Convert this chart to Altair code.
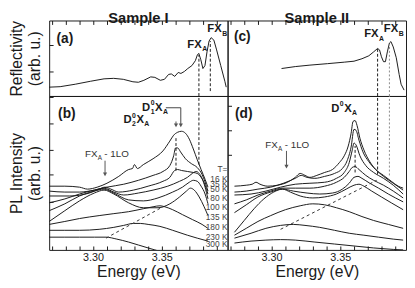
import altair as alt
import pandas as pd

FONT = "Liberation Sans"
INK = "#1a1a1a"
GRAY = "#555555"
X_DOMAIN = [3.268, 3.398]
X_TICKS = [3.27, 3.28, 3.29, 3.30, 3.31, 3.32, 3.33, 3.34, 3.35, 3.36, 3.37, 3.38, 3.39]
PANEL_W = 182
TOP_H = 77
BOT_H = 157

# ---------------- reflectivity ----------------
REFL_A_E = [3.268, 3.276, 3.287, 3.298, 3.308, 3.315, 3.322, 3.329, 3.333, 3.337, 3.342, 3.345,
            3.349, 3.352, 3.355, 3.357, 3.3595, 3.362, 3.364, 3.3665, 3.369, 3.372, 3.3745, 3.376,
            3.377, 3.3785, 3.380, 3.3815, 3.383, 3.3845, 3.386, 3.388, 3.390, 3.393, 3.396, 3.397]
REFL_A_V = [9, 9.5, 12, 15, 17.5, 18, 17, 14.5, 14, 16, 19.5, 19,
            16, 17, 22, 22.5, 20, 24, 23, 25, 28, 31, 36, 42,
            43.5, 37, 28, 31, 45, 56, 59.5, 57, 47, 31, 15, 9]
REFL_C_E = [3.3073, 3.3173, 3.328, 3.3409, 3.353, 3.3601, 3.3659, 3.3709, 3.3744, 3.3773, 3.3787,
            3.3801, 3.3816, 3.383, 3.3844, 3.3859, 3.387, 3.3887, 3.3909, 3.393, 3.3944, 3.3966]
REFL_C_V = [28, 30, 31.5, 33, 34.5, 35.5, 38, 41, 45, 48.5, 47,
            40, 35, 35, 45, 54, 55.5, 50, 39, 22, 12, 6]

TEMPS = ["16 K", "35 K", "50 K", "80 K", "100 K", "135 K", "180 K", "230 K", "300 K"]

# ---------------- PL sample I (panel b) ----------------
PL_B = {
    "16 K": ([3.2680, 3.2794, 3.2901, 3.2959, 3.3030, 3.3101, 3.3187, 3.3259, 3.3287, 3.3301, 3.3323,
              3.3366, 3.3437, 3.3509, 3.3559, 3.3587, 3.3616, 3.3644, 3.3673, 3.3701, 3.3730, 3.3759,
              3.3787, 3.3816, 3.3837],
             [65, 65, 64, 62, 64, 68, 75, 82, 83, 87, 83, 87, 93, 101, 111, 117, 120, 121, 119, 113,
              103, 92, 82, 72, 64]),
    "35 K": ([3.2680, 3.2794, 3.2901, 3.3009, 3.3101, 3.3223, 3.3330, 3.3437, 3.3509, 3.3559, 3.3587,
              3.3601, 3.3616, 3.3637, 3.3673, 3.3716, 3.3759, 3.3794, 3.3837],
             [60, 59, 59, 61, 64, 67, 71, 76, 80, 86, 96, 104, 104, 100, 93, 88, 84, 77, 60]),
    "50 K": ([3.2680, 3.2830, 3.2973, 3.3044, 3.3087, 3.3130, 3.3187, 3.3294, 3.3401, 3.3509, 3.3559,
              3.3594, 3.3616, 3.3644, 3.3687, 3.3730, 3.3759, 3.3787, 3.3816, 3.3837],
             [55, 55, 58, 62, 64, 62, 59, 61, 65, 70, 74, 81, 82, 81, 80, 79, 78, 74, 66, 57]),
    "80 K": ([3.2680, 3.2794, 3.2901, 3.3009, 3.3080, 3.3151, 3.3223, 3.3330, 3.3437, 3.3544, 3.3630,
              3.3687, 3.3723, 3.3751, 3.3773, 3.3794, 3.3816, 3.3837],
             [48, 52, 57, 61, 63, 59, 56, 58, 61, 65, 70, 74, 78, 80, 78, 73, 64, 52]),
    "100 K": ([3.2680, 3.2794, 3.2901, 3.3009, 3.3080, 3.3151, 3.3259, 3.3366, 3.3473, 3.3580, 3.3651,
               3.3701, 3.3730, 3.3759, 3.3787, 3.3816, 3.3837],
              [40, 47, 55, 60, 62, 58, 51, 50, 53, 59, 64, 69, 71, 70, 65, 57, 47]),
    "135 K": ([3.2680, 3.2794, 3.2901, 3.3009, 3.3080, 3.3151, 3.3259, 3.3366, 3.3473, 3.3559, 3.3630,
               3.3680, 3.3709, 3.3737, 3.3773, 3.3809, 3.3837],
              [29, 40, 50, 58, 61, 57, 48, 43, 43, 47, 54, 60, 63, 61, 54, 44, 35]),
    "180 K": ([3.2680, 3.2794, 3.2901, 3.3044, 3.3151, 3.3259, 3.3366, 3.3437, 3.3487, 3.3523, 3.3580,
               3.3651, 3.3723, 3.3794, 3.3837],
              [26, 29, 32, 35, 37, 39, 42, 44, 45, 44, 41, 36, 31, 26, 22]),
    "230 K": ([3.2680, 3.2794, 3.2901, 3.3044, 3.3151, 3.3223, 3.3294, 3.3344, 3.3401, 3.3487, 3.3580,
               3.3687, 3.3759, 3.3837],
              [20, 20, 20, 21, 23, 25, 27, 27, 26, 24, 20, 15, 12, 9]),
    "300 K": ([3.2680, 3.2794, 3.2901, 3.3009, 3.3094, 3.3173, 3.3259, 3.3330, 3.3401, 3.3450, 3.3500],
              [13, 13, 13, 13, 13, 11, 8, 5, 2, 0, -2]),
}

# ---------------- PL sample II (panel d) ----------------
PL_D = {
    "16 K": ([3.2730, 3.2816, 3.2859, 3.2887, 3.2916, 3.2973, 3.3044, 3.3116, 3.3173, 3.3209, 3.3244,
              3.3280, 3.3330, 3.3387, 3.3444, 3.3494, 3.3530, 3.3559, 3.3580, 3.3594, 3.3609, 3.3623,
              3.3644, 3.3673, 3.3716, 3.3759, 3.3816, 3.3873, 3.3923, 3.3959],
             [65, 66, 67, 69, 67, 65, 66, 69, 74, 78, 76, 74, 76, 79, 82, 89, 96, 106, 119, 131, 132,
              127, 114, 102, 90, 82, 76, 70, 65, 63]),
    "35 K": ([3.2730, 3.2816, 3.2901, 3.2994, 3.3087, 3.3173, 3.3216, 3.3259, 3.3316, 3.3387, 3.3459,
              3.3516, 3.3551, 3.3580, 3.3601, 3.3616, 3.3637, 3.3666, 3.3709, 3.3759, 3.3816, 3.3887,
              3.3959],
             [59, 60, 62, 64, 68, 73, 76, 74, 73, 75, 78, 83, 91, 105, 123, 122, 112, 100, 90, 82, 75,
              68, 61]),
    "50 K": ([3.2730, 3.2851, 3.2959, 3.3066, 3.3173, 3.3280, 3.3387, 3.3473, 3.3530, 3.3566, 3.3587,
              3.3601, 3.3616, 3.3644, 3.3687, 3.3744, 3.3816, 3.3887, 3.3959],
             [56, 57, 60, 64, 67, 68, 69, 73, 79, 89, 101, 109, 107, 96, 86, 79, 73, 66, 57]),
    "80 K": ([3.2730, 3.2816, 3.2901, 3.2994, 3.3080, 3.3173, 3.3280, 3.3387, 3.3473, 3.3530, 3.3566,
              3.3587, 3.3609, 3.3637, 3.3687, 3.3744, 3.3816, 3.3887, 3.3959],
             [47, 51, 56, 60, 63, 63, 63, 65, 69, 74, 80, 84, 85, 82, 76, 71, 66, 60, 53]),
    "100 K": ([3.2730, 3.2816, 3.2901, 3.2994, 3.3080, 3.3159, 3.3259, 3.3351, 3.3444, 3.3516, 3.3566,
               3.3601, 3.3630, 3.3659, 3.3716, 3.3780, 3.3851, 3.3959],
              [38, 46, 54, 59, 62, 60, 58, 57, 58, 62, 68, 74, 75, 73, 68, 63, 57, 49]),
    "135 K": ([3.2730, 3.2801, 3.2873, 3.2944, 3.3016, 3.3080, 3.3137, 3.3209, 3.3301, 3.3387, 3.3473,
               3.3544, 3.3601, 3.3637, 3.3673, 3.3730, 3.3801, 3.3873, 3.3959],
              [18, 30, 42, 52, 59, 62, 59, 55, 53, 54, 57, 62, 66, 67, 65, 60, 54, 48, 41]),
    "180 K": ([3.2730, 3.2816, 3.2901, 3.2994, 3.3101, 3.3209, 3.3301, 3.3387, 3.3473, 3.3566, 3.3659,
               3.3744, 3.3851, 3.3959],
              [15, 22, 29, 35, 41, 45, 47, 46, 43, 39, 34, 30, 26, 22]),
    "230 K": ([3.2730, 3.2851, 3.2959, 3.3066, 3.3159, 3.3244, 3.3351, 3.3459, 3.3566, 3.3673, 3.3780,
               3.3887, 3.3959],
              [12, 17, 22, 25, 26, 25, 23, 20, 17, 15, 13, 11, 10]),
    "300 K": ([3.2730, 3.2851, 3.2959, 3.3066, 3.3173, 3.3316, 3.3459, 3.3601, 3.3744, 3.3887, 3.3959],
              [7, 9, 10, 10.5, 10, 8, 6, 4, 2, 0.5, 0]),
}

# temperature label column (panel d coordinates, right edge on the panel border)
T_LABEL_E = 3.2679
T_LABEL_TEXT = ["T="] + TEMPS
T_LABEL_V = [82, 72, 67, 62.5, 53, 44, 33, 23, 13.5, 6]

# vertical marker lines: (energy, from, to)
VLINES_A = [(3.3771, 0, 42), (3.3854, 5, 56)]
VLINES_B = [(3.3771, 87, 157), (3.3604, 81, 116)]
VLINES_C_BLACK = [(3.3773, 0, 48)]
VLINES_C_GRAY = [(3.3859, 0, 53)]
VLINES_D_BLACK = [(3.3773, 77, 157), (3.3609, 79, 106)]
VLINES_D_GRAY = [(3.3859, 76, 157)]
# diagonal guide lines (energy, value) pairs
DIAG_B_E = [3.3094, 3.3509]
DIAG_B_V = [12, 44]
DIAG_D_E = [3.3066, 3.3766]
DIAG_D_V = [21, 71]
# arrows (energy, start, tip)
ARROWS_B = [(3.3087, 91, 78), (3.3604, 131, 128)]
ARROWS_D = [(3.3109, 101, 86)]
BRACKET_B_E = [3.3530, 3.3639, 3.3639]
BRACKET_B_V = [145, 145, 128]
ARROW_HEADS_B = [(3.3087, 77), (3.3604, 127), (3.3639, 127)]
ARROW_HEADS_D = [(3.3109, 85)]

# text anchors
PANEL_TAGS = {"a": (3.2794, 58), "b": (3.2809, 139), "c": (3.2787, 60), "d": (3.2798, 139)}
FXA_A = (3.3791, 52)
FXB_A = (3.3937, 68)
FXA_C = (3.3780, 63)
FXB_C = (3.3923, 68)
LO_B = (3.3032, 98)
LO_D = (3.3046, 107)
D1_B = (3.3416, 144.5)
D2_B = (3.3280, 132)
D_D = (3.3494, 144)


def x_enc(kind):
    common = dict(values=X_TICKS, domain=False, grid=False, tickSize=4, offset=-4, tickColor=INK)
    if kind == "top":
        axis = alt.Axis(orient="top", labels=False, title=None, **common)
    else:
        axis = alt.Axis(orient="bottom",
                        labelExpr="(round(datum.value*100) % 5 == 0) ? format(datum.value, '.2f') : ''",
                        labelOverlap=False, labelFlush=False, labelPadding=2, labelFontSize=11,
                        labelColor=INK, labelFont=FONT,
                        title="Energy (eV)", titleFontSize=16, titleFontWeight="normal",
                        titlePadding=1, titleColor=INK, titleFont=FONT, **common)
    return alt.X("E:Q", scale=alt.Scale(domain=X_DOMAIN, nice=False, zero=False), axis=axis)


def y_enc(height, ticks, title):
    kw = dict(labels=False, domain=False, grid=False, tickSize=4, offset=-4, tickColor=INK)
    if ticks:
        kw["values"] = ticks
    else:
        kw["ticks"] = False
    if title:
        kw.update(title=title, titleFontSize=16, titleFontWeight="normal", titlePadding=6,
                  titleLineHeight=19, titleColor=INK, titleFont=FONT)
    else:
        kw["title"] = None
    return alt.Y("V:Q", scale=alt.Scale(domain=[0, height], nice=False, zero=False),
                 axis=alt.Axis(**kw))


def curves_layer(curves, X, Y, color=INK):
    rows = []
    for name, (es, vs) in curves.items():
        for i, (e, v) in enumerate(zip(es, vs)):
            rows.append({"T": name, "E": e, "V": v, "i": i})
    return alt.Chart(pd.DataFrame(rows)).mark_line(
        interpolate="monotone", strokeWidth=1, color=color, clip=True
    ).encode(x=X, y=Y, detail="T:N", order="i:Q")


def vlines(specs, X, Y, color=INK, dash=(3, 2)):
    df = pd.DataFrame([{"E": e, "V": a, "V2": b} for e, a, b in specs])
    return alt.Chart(df).mark_rule(color=color, strokeWidth=1, strokeDash=list(dash)).encode(
        x=X, y=Y, y2="V2:Q")


def path(es, vs, X, Y, color=INK, dash=None, width=1):
    df = pd.DataFrame({"E": es, "V": vs, "i": list(range(len(es)))})
    kw = dict(color=color, strokeWidth=width)
    if dash:
        kw["strokeDash"] = list(dash)
    return alt.Chart(df).mark_line(**kw).encode(x=X, y=Y, order="i:Q")


def heads(specs, X, Y, color=GRAY):
    df = pd.DataFrame([{"E": e, "V": v} for e, v in specs])
    return alt.Chart(df).mark_point(shape="triangle-down", filled=True, size=18, color=color,
                                    opacity=1).encode(x=X, y=Y)


def txt(pos, text, X, Y, size, weight="normal", align="left", dx=0, dy=0, color=INK):
    df = pd.DataFrame({"E": [pos[0]], "V": [pos[1]], "t": [text]})
    return alt.Chart(df).mark_text(fontSize=size, fontWeight=weight, align=align, baseline="middle",
                                   dx=dx, dy=dy, color=color, font=FONT).encode(x=X, y=Y, text="t:N")


def fx_label(pos, sub, X, Y):
    return [txt(pos, "FX", X, Y, 11.5, "bold", "right"),
            txt(pos, sub, X, Y, 7, "bold", "left", 0.5, 4.5)]


def lo_label(pos, X, Y):
    return [txt(pos, "FX", X, Y, 10, "normal", "right", color="#333333"),
            txt(pos, "A", X, Y, 6.5, "normal", "left", 0.3, 4, color="#333333"),
            txt(pos, "- 1LO", X, Y, 10, "normal", "left", 7, 0, color="#333333")]


def donor_label(pos, idx, X, Y):
    out = [txt(pos, "D", X, Y, 11.5, "bold", "right"),
           txt(pos, "0", X, Y, 7, "bold", "left", 0.5, -5)]
    if idx:
        out.append(txt(pos, idx, X, Y, 7, "bold", "left", 0.5, 4))
    out += [txt(pos, "X", X, Y, 11.5, "bold", "left", 5, 0),
            txt(pos, "A", X, Y, 7, "bold", "left", 13, 4)]
    return out


def arrows(specs, X, Y, color=GRAY):
    df = pd.DataFrame([{"E": e, "V": a, "V2": b} for e, a, b in specs])
    return alt.Chart(df).mark_rule(color=color, strokeWidth=1).encode(x=X, y=Y, y2="V2:Q")


# ---------------- panel a ----------------
Xa, Ya = x_enc("top"), y_enc(TOP_H, [25, 52], ["Reflectivity", "(arb. u.)"])
layers_a = [
    path(REFL_A_E, REFL_A_V, Xa, Ya),
    vlines(VLINES_A, Xa, Ya),
    txt(PANEL_TAGS["a"], "(a)", Xa, Ya, 14, "bold", "center"),
] + fx_label(FXA_A, "A", Xa, Ya) + fx_label(FXB_A, "B", Xa, Ya)
panel_a = alt.layer(*layers_a).properties(
    width=PANEL_W, height=TOP_H,
    title=alt.TitleParams("Sample I", fontSize=15, fontWeight="bold", font=FONT, anchor="middle",
                          offset=-6, color=INK))

# ---------------- panel b ----------------
Xb, Yb = x_enc("bottom"), y_enc(BOT_H, [49, 77, 102, 129, 156], ["PL Intensity", "(arb. u.)"])
layers_b = [
    curves_layer(PL_B, Xb, Yb),
    vlines(VLINES_B, Xb, Yb),
    path(DIAG_B_E, DIAG_B_V, Xb, Yb, color="#333333", dash=(3, 3)),
    arrows(ARROWS_B, Xb, Yb),
    path(BRACKET_B_E, BRACKET_B_V, Xb, Yb, color="#444444"),
    heads(ARROW_HEADS_B, Xb, Yb),
    txt(PANEL_TAGS["b"], "(b)", Xb, Yb, 14, "bold", "center"),
] + lo_label(LO_B, Xb, Yb) + donor_label(D1_B, "1", Xb, Yb) + donor_label(D2_B, "2", Xb, Yb)
panel_b = alt.layer(*layers_b).properties(width=PANEL_W, height=BOT_H)

# ---------------- panel c ----------------
Xc, Yc = x_enc("top"), y_enc(TOP_H, [], None)
layers_c = [
    path(REFL_C_E, REFL_C_V, Xc, Yc),
    vlines(VLINES_C_BLACK, Xc, Yc),
    vlines(VLINES_C_GRAY, Xc, Yc, color="#888888", dash=(2, 2)),
    txt(PANEL_TAGS["c"], "(c)", Xc, Yc, 14, "bold", "center"),
] + fx_label(FXA_C, "A", Xc, Yc) + fx_label(FXB_C, "B", Xc, Yc)
panel_c = alt.layer(*layers_c).properties(
    width=PANEL_W, height=TOP_H,
    title=alt.TitleParams("Sample II", fontSize=15, fontWeight="bold", font=FONT, anchor="middle",
                          offset=-6, color=INK))

# ---------------- panel d ----------------
Xd, Yd = x_enc("bottom"), y_enc(BOT_H, [97, 122, 147], None)
tlab = pd.DataFrame({"E": [T_LABEL_E] * len(T_LABEL_TEXT), "V": T_LABEL_V, "t": T_LABEL_TEXT})
layers_d = [
    curves_layer(PL_D, Xd, Yd),
    vlines(VLINES_D_BLACK, Xd, Yd),
    vlines(VLINES_D_GRAY, Xd, Yd, color="#888888", dash=(2, 2)),
    path(DIAG_D_E, DIAG_D_V, Xd, Yd, color="#333333", dash=(3, 3)),
    arrows(ARROWS_D, Xd, Yd),
    heads(ARROW_HEADS_D, Xd, Yd),
    alt.Chart(tlab).mark_text(fontSize=8.5, align="right", baseline="middle", color="#444444",
                              font=FONT).encode(x=Xd, y=Yd, text="t:N"),
    txt(PANEL_TAGS["d"], "(d)", Xd, Yd, 14, "bold", "center"),
] + lo_label(LO_D, Xd, Yd) + donor_label(D_D, None, Xd, Yd)
panel_d = alt.layer(*layers_d).properties(width=PANEL_W, height=BOT_H)

chart = alt.concat(panel_a, panel_c, panel_b, panel_d, columns=2, spacing=0, bounds="flush").properties(
    padding={"left": 0, "right": 0, "top": 0, "bottom": 0}
).configure(font=FONT).configure_view(stroke=INK, strokeWidth=1)

chart.save("out.html", embed_options={"renderer": "svg", "actions": False})
